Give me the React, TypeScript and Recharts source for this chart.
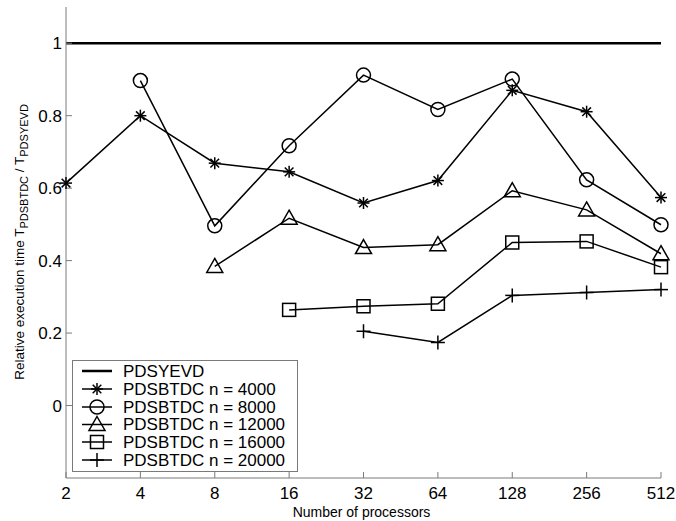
import React from 'react';
import { LineChart, Line, XAxis, YAxis, Legend, Label } from 'recharts';

const processors = [2, 4, 8, 16, 32, 64, 128, 256, 512];
const pdsyevd = [1, 1, 1, 1, 1, 1, 1, 1, 1];
const n4000 = [0.614, 0.8, 0.669, 0.645, 0.559, 0.621, 0.87, 0.811, 0.574];
const n8000 = [null, 0.897, 0.496, 0.717, 0.912, 0.817, 0.901, 0.623, 0.499];
const n12000 = [null, null, 0.384, 0.517, 0.436, 0.444, 0.593, 0.54, 0.419];
const n16000 = [null, null, null, 0.264, 0.274, 0.281, 0.45, 0.453, 0.382];
const n20000 = [null, null, null, null, 0.205, 0.174, 0.304, 0.312, 0.32];
const yTicks = [0, 0.2, 0.4, 0.6, 0.8, 1];
const seriesNames = [
  'PDSYEVD',
  'PDSBTDC n = 4000',
  'PDSBTDC n = 8000',
  'PDSBTDC n = 12000',
  'PDSBTDC n = 16000',
  'PDSBTDC n = 20000',
];
const seriesKeys = ['s0', 's1', 's2', 's3', 's4', 's5'];
const seriesMarkers = ['none', 'star', 'circle', 'triangle', 'square', 'plus'];
const seriesValues = [pdsyevd, n4000, n8000, n12000, n16000, n20000];

const data = processors.map((p, i) => {
  const row: Record<string, number | null> = { p };
  seriesKeys.forEach((k, j) => {
    row[k] = seriesValues[j][i];
  });
  return row;
});

const FONT = '"Liberation Sans", Arial, Helvetica, sans-serif';
const AXIS_GRAY = '#7a7a7a';

function Marker({ kind, cx, cy }: { kind: string; cx: number; cy: number }) {
  const st = { stroke: '#000', strokeWidth: 1.5, fill: 'none' };
  if (kind === 'star') {
    const r = 6;
    const d = r * 0.72;
    return (
      <g {...st}>
        <line x1={cx - r} y1={cy} x2={cx + r} y2={cy} />
        <line x1={cx} y1={cy - r} x2={cx} y2={cy + r} />
        <line x1={cx - d} y1={cy - d} x2={cx + d} y2={cy + d} />
        <line x1={cx - d} y1={cy + d} x2={cx + d} y2={cy - d} />
      </g>
    );
  }
  if (kind === 'circle') return <circle cx={cx} cy={cy} r={7} {...st} />;
  if (kind === 'triangle') {
    const pts = `${cx},${cy - 8} ${cx + 8},${cy + 6} ${cx - 8},${cy + 6}`;
    return <polygon points={pts} {...st} />;
  }
  if (kind === 'square') return <rect x={cx - 6.5} y={cy - 6.5} width={13} height={13} {...st} />;
  if (kind === 'plus') {
    const r = 7;
    return (
      <g {...st}>
        <line x1={cx - r} y1={cy} x2={cx + r} y2={cy} />
        <line x1={cx} y1={cy - r} x2={cx} y2={cy + r} />
      </g>
    );
  }
  return null;
}

const makeDot = (kind: string) => (props: any) => {
  const { cx, cy, index } = props;
  if (cx == null || cy == null || props.value == null) return <g key={`${kind}-${index}`} />;
  return (
    <g key={`${kind}-${index}`}>
      <Marker kind={kind} cx={cx} cy={cy} />
    </g>
  );
};

const LegendBox = () => {
  const rowY = [11, 29, 47, 64.5, 82, 100];
  return (
    <svg width={226} height={112} style={{ display: 'block' }}>
      <rect x={0.5} y={0.5} width={225} height={111} fill="#fff" stroke={AXIS_GRAY} strokeWidth={1} />
      {seriesNames.map((name, i) => (
        <g key={name}>
          <line x1={10} y1={rowY[i]} x2={40} y2={rowY[i]} stroke="#000" strokeWidth={i === 0 ? 2.5 : 1.5} />
          <Marker kind={seriesMarkers[i]} cx={25} cy={rowY[i]} />
          <text x={51} y={rowY[i] + 5.5} fontFamily={FONT} fontSize={17} fill="#000">
            {name}
          </text>
        </g>
      ))}
    </svg>
  );
};

const YLabel = () => (
  <text
    transform="translate(23.5,242) rotate(-90)"
    textAnchor="middle"
    fontFamily={FONT}
    fontSize={13.5}
    fill="#000"
  >
    <tspan>Relative execution time T</tspan>
    <tspan fontSize={11} dy={4}>PDSBTDC</tspan>
    <tspan dy={-4}> / T</tspan>
    <tspan fontSize={11} dy={4}>PDSYEVD</tspan>
  </text>
);

const XLabel = () => (
  <text x={361.5} y={517} textAnchor="middle" fontFamily={FONT} fontSize={14} fill="#000">
    Number of processors
  </text>
);

export default function App() {
  const tickStyle = { fontFamily: FONT, fontSize: 17, fill: '#000' };
  return (
    <div style={{ position: 'absolute', left: 0, top: 0, background: '#fff' }}>
      <LineChart width={676} height={521} data={data} margin={{ top: 7, right: 15, bottom: 0, left: 0 }}>
        <XAxis
          xAxisId="b"
          dataKey="p"
          type="number"
          scale="log"
          domain={[2, 512]}
          ticks={processors}
          interval={0}
          height={43}
          tickSize={-6}
          tickMargin={15}
          stroke={AXIS_GRAY}
          tick={tickStyle}
          tickLine={{ stroke: AXIS_GRAY }}
          axisLine={{ stroke: AXIS_GRAY }}
        >
          <Label content={<XLabel />} />
        </XAxis>
        <XAxis
          xAxisId="t"
          orientation="top"
          dataKey="p"
          type="number"
          scale="log"
          domain={[2, 512]}
          ticks={processors}
          interval={0}
          height={0}
          tickSize={-6}
          tick={false}
          stroke={AXIS_GRAY}
          tickLine={{ stroke: AXIS_GRAY }}
          axisLine={{ stroke: AXIS_GRAY }}
        />
        <YAxis
          yAxisId="l"
          type="number"
          domain={[-0.2, 1.1]}
          ticks={yTicks}
          interval={0}
          width={66}
          tickSize={-6}
          tickMargin={10}
          stroke={AXIS_GRAY}
          tick={tickStyle}
          tickLine={{ stroke: AXIS_GRAY }}
          axisLine={{ stroke: AXIS_GRAY }}
          tickFormatter={(v: number) => String(v)}
        >
          <Label content={<YLabel />} />
        </YAxis>
        <YAxis
          yAxisId="r"
          orientation="right"
          type="number"
          domain={[-0.2, 1.1]}
          ticks={yTicks}
          interval={0}
          width={0}
          tickSize={-6}
          tick={false}
          stroke={AXIS_GRAY}
          tickLine={{ stroke: AXIS_GRAY }}
          axisLine={{ stroke: AXIS_GRAY }}
        />
        {seriesKeys.map((k, i) => (
          <Line
            key={k}
            xAxisId="b"
            yAxisId="l"
            dataKey={k}
            name={seriesNames[i]}
            stroke="#000"
            strokeWidth={i === 0 ? 2.5 : 1.5}
            dot={i === 0 ? false : makeDot(seriesMarkers[i])}
            activeDot={false}
            isAnimationActive={false}
            connectNulls={false}
            type="linear"
          />
        ))}
        <Legend
          layout="vertical"
          align="center"
          verticalAlign="middle"
          content={() => <LegendBox />}
          wrapperStyle={{ left: 72, top: 360, width: 226, height: 112, position: 'absolute' }}
        />
      </LineChart>
    </div>
  );
}
